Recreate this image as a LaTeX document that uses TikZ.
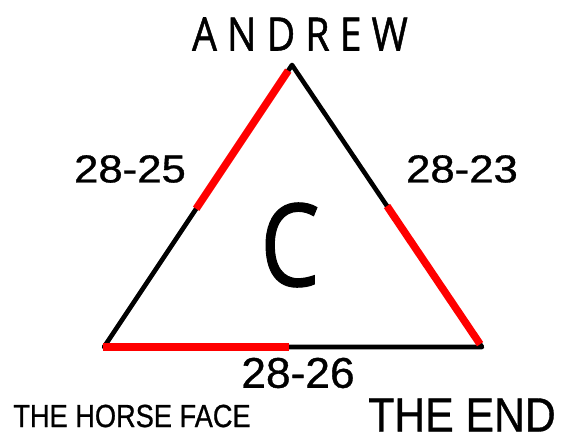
\documentclass[tikz,border=0pt]{standalone}
\usepackage{fontspec}
\setmainfont{Liberation Sans}
\newfontfamily\heavyfont[FakeBold=0.8]{Liberation Sans}
\newfontfamily\condfont[FakeBold=1]{Open Sans}
\newfontfamily\spacedfont[LetterSpace=26,FakeBold=1.2]{Open Sans}
\usetikzlibrary{calc}
\begin{document}
\begin{tikzpicture}[x=1pt,y=-1pt,
    edge/.style={black, line width=4.6pt, line join=round},
    redhalf/.style={red, line width=7.5pt},
    score/.style={inner sep=0pt, xscale=1.12, font=\heavyfont\fontsize{39}{39}\selectfont}]
    \useasboundingbox (0,0) rectangle (571,439);
    \coordinate (top) at (292,65);
    \coordinate (left) at (104,347);
    \coordinate (right) at (482,347);
    \draw[edge] (top) -- (left) -- (right) -- cycle;

    % red halves of the sides
    \draw[redhalf] ($(top)!0.02!(left)$) -- ($(top)!0.51!(left)$);
    \draw[redhalf] ($(right)!0.5!(top)$) -- ($(right)!0.01!(top)$);
    \draw[redhalf] ($(left)+(-1,0)$) -- ($(left)!0.49!(right)$);

    % labels
    \node[inner sep=0pt, xscale=0.85, font=\spacedfont\fontsize{46}{46}\selectfont] (name) at (300,34) {ANDREW};
    \node[inner sep=0pt, xscale=0.82, font=\condfont\fontsize{115}{115}\selectfont] (letter) at (290,245) {C};
    \node[score] (leftscore) at (130,169) {28-25};
    \node[score] (rightscore) at (462,169) {28-23};
    \node[score, xscale=0.92, font=\heavyfont\fontsize{43}{43}\selectfont] (bottomscore) at (298,373) {28-26};
    \node[inner sep=0pt, xscale=0.85, font=\heavyfont\fontsize{32}{32}\selectfont] (horse) at (132,416) {THE HORSE FACE};
    \node[inner sep=0pt, xscale=0.89, font=\heavyfont\fontsize{48}{48}\selectfont] (theend) at (462,415) {THE END};
\end{tikzpicture}
\end{document}
